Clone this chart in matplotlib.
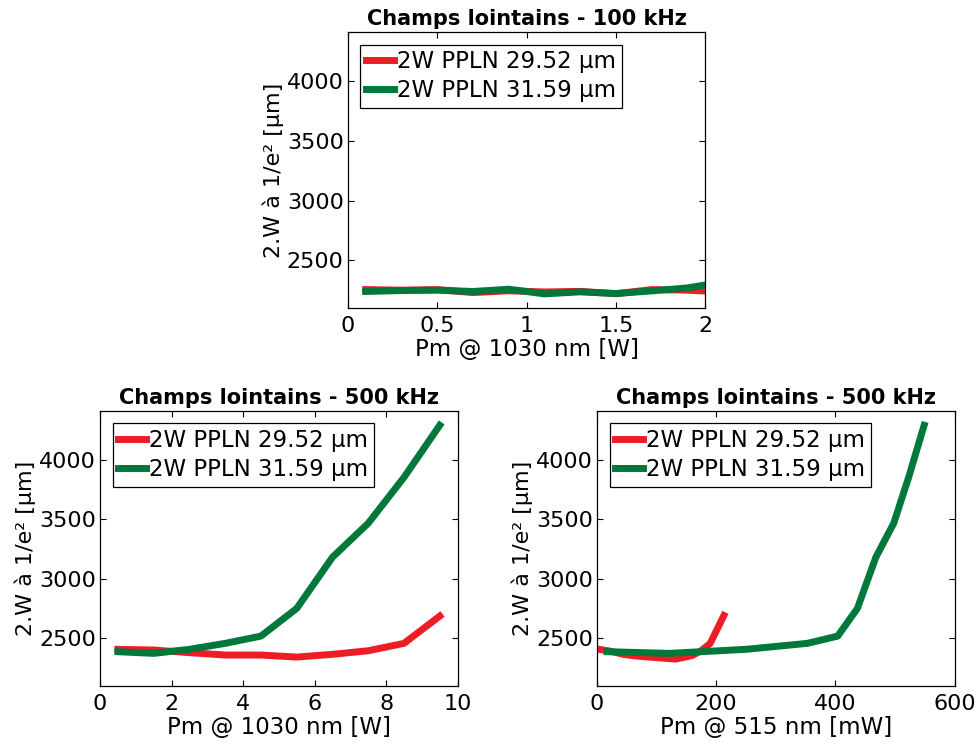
import matplotlib.pyplot as plt

plt.rcParams['font.family'] = ['DejaVu Sans']

# top: 100 kHz, fundamental power [W]
p100 = [0.1, 0.3, 0.5, 0.7, 0.9, 1.1, 1.3, 1.5, 1.7, 1.9, 2.1]
w100_2952 = [2255, 2250, 2255, 2230, 2245, 2235, 2240, 2220, 2255, 2250, 2235]
w100_3159 = [2239, 2247, 2250, 2239, 2258, 2219, 2236, 2222, 2244, 2269, 2318]

# bottom: 500 kHz, fundamental power [W]
p500 = [0.5, 1.5, 2.5, 3.5, 4.5, 5.5, 6.5, 7.5, 8.5, 9.5]
w500_2952 = [2408, 2402, 2380, 2360, 2360, 2343, 2366, 2396, 2458, 2687]
w500_3159 = [2388, 2374, 2408, 2458, 2519, 2751, 3181, 3466, 3851, 4288]

# SH power [mW] for each point
sh_2952 = [6, 25, 45, 65, 95, 132, 160, 176, 190, 213]
sh_2952_w = [2406, 2390, 2365, 2352, 2340, 2326, 2356, 2400, 2458, 2692]
sh_3159 = [17, 122, 250, 353, 404, 437, 468, 498, 523, 549]

red = '#EE1C25'
green = '#00783C'
labels = ['2W PPLN 29.52 µm', '2W PPLN 31.59 µm']

fig = plt.figure(figsize=(9.77, 7.46), dpi=100)
ax_top = fig.add_axes([0.356, 0.587, 0.366, 0.370])
ax_bl = fig.add_axes([0.1024, 0.0804, 0.366, 0.369])
ax_br = fig.add_axes([0.611, 0.0804, 0.366, 0.369])


def style(ax, title, xlabel, xlim, xticks):
    ax.set_title(title, fontsize=15, fontweight='bold', pad=5)
    ax.set_xlabel(xlabel, fontsize=16.5, labelpad=1)
    ax.set_ylabel('2.W à 1/e² [µm]', fontsize=16, labelpad=2)
    ax.set_xlim(xlim)
    ax.set_xticks(xticks)
    ax.set_ylim(2100, 4410)
    ax.set_yticks([2500, 3000, 3500, 4000])
    ax.tick_params(direction='in', top=True, right=True, labelsize=16,
                   length=4, width=0.8, pad=3)
    ax.tick_params(axis='x', pad=6)
    for s in ax.spines.values():
        s.set_linewidth(0.9)
    leg = ax.legend(loc='upper left', fontsize=16.5, handlelength=1.2,
                    handletextpad=0.15, borderpad=0.25, labelspacing=0.25,
                    borderaxespad=0.55, fancybox=False, framealpha=1)
    leg.get_frame().set_edgecolor('black')
    leg.get_frame().set_linewidth(0.9)


ax_top.plot(p100, w100_2952, color=red, lw=5, label=labels[0])
ax_top.plot(p100, w100_3159, color=green, lw=5, label=labels[1])
style(ax_top, 'Champs lointains - 100 kHz', 'Pm @ 1030 nm [W]', (0, 2),
      [0, 0.5, 1, 1.5, 2])
ax_top.set_xticklabels(['0', '0.5', '1', '1.5', '2'])

ax_bl.plot(p500, w500_2952, color=red, lw=5, label=labels[0])
ax_bl.plot(p500, w500_3159, color=green, lw=5, label=labels[1])
style(ax_bl, 'Champs lointains - 500 kHz', 'Pm @ 1030 nm [W]', (0, 10),
      [0, 2, 4, 6, 8, 10])

ax_br.plot(sh_2952, sh_2952_w, color=red, lw=5, label=labels[0])
ax_br.plot(sh_3159, w500_3159, color=green, lw=5, label=labels[1])
style(ax_br, 'Champs lointains - 500 kHz', 'Pm @ 515 nm [mW]', (0, 600),
      [0, 200, 400, 600])

fig.savefig('out.png', dpi=100)
